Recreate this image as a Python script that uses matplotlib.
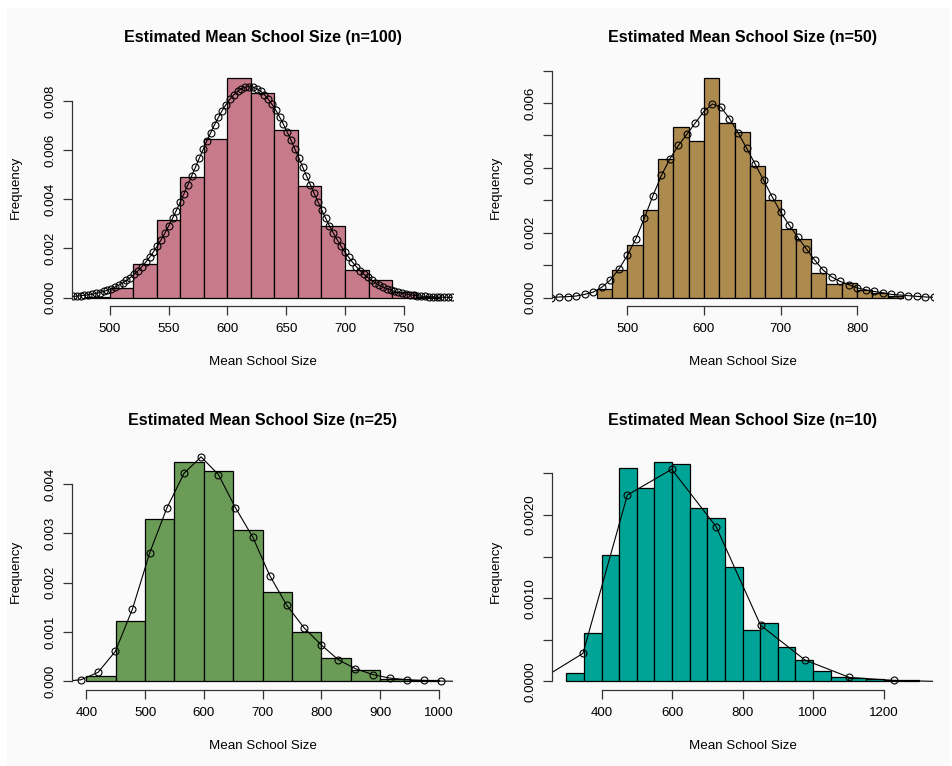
import numpy as np
import matplotlib.pyplot as plt
from matplotlib.patches import Rectangle

plt.rcParams['font.family'] = ['Liberation Sans', 'DejaVu Sans']

W, H = 953, 766

# ---- n = 100 : density histogram (bin width 20) + fitted curve ----
edges_100 = [480, 500, 520, 540, 560, 580, 600, 620, 640, 660, 680, 700, 720, 740, 760, 780]
dens_100 = [0.00003, 0.00038, 0.00135, 0.00315, 0.00491, 0.00646, 0.00893, 0.00831,
            0.00681, 0.00455, 0.00291, 0.00111, 0.00070, 0.00024, 0.00004]
curve_x_100 = [468.8, 472.1, 475.3, 478.6, 481.8, 485.1, 488.3, 491.6, 494.8, 498.1,
               501.3, 504.6, 507.8, 511.1, 514.3, 517.6, 520.8, 524.1, 527.3, 530.6,
               533.9, 537.1, 540.4, 543.6, 546.9, 550.1, 553.4, 556.6, 559.9, 563.1,
               566.4, 569.6, 572.9, 576.1, 579.4, 582.6, 585.9, 589.1, 592.4, 595.6,
               598.9, 602.2, 605.4, 608.7, 611.9, 615.2, 618.4, 621.7, 624.9, 628.2,
               631.4, 634.7, 637.9, 641.2, 644.4, 647.7, 650.9, 654.2, 657.4, 660.7,
               663.9, 667.2, 670.5, 673.7, 677.0, 680.2, 683.5, 686.7, 690.0, 693.2,
               696.5, 699.7, 703.0, 706.2, 709.5, 712.7, 716.0, 719.2, 722.5, 725.8,
               729.0, 732.3, 735.5, 738.8, 742.0, 745.3, 748.5, 751.8, 755.0, 758.3,
               761.5, 764.8, 768.0, 771.3, 774.5, 777.8, 781.0, 784.3, 787.6, 790.8]
# curve heights in units of 1e-4
curve_y_100 = [0.48, 0.60, 0.75, 0.93, 1.14, 1.40, 1.70, 2.07, 2.50, 3.00,
               3.59, 4.27, 5.05, 5.95, 6.98, 8.14, 9.46, 10.93, 12.55, 14.37,
               16.36, 18.54, 20.90, 23.46, 26.19, 29.09, 32.17, 35.39, 38.75, 42.21,
               45.77, 49.39, 53.02, 56.65, 60.23, 63.73, 67.10, 70.30, 73.29, 76.04,
               78.51, 80.66, 82.46, 83.90, 84.94, 85.58, 85.80, 85.60, 84.98, 83.97,
               82.55, 80.76, 78.63, 76.18, 73.44, 70.46, 67.27, 63.91, 60.41, 56.84,
               53.21, 49.58, 45.95, 42.40, 38.93, 35.56, 32.33, 29.25, 26.33, 23.59,
               21.03, 18.65, 16.47, 14.47, 12.65, 11.01, 9.53, 8.21, 7.04, 6.00,
               5.10, 4.30, 3.62, 3.03, 2.52, 2.09, 1.72, 1.41, 1.15, 0.94,
               0.76, 0.61, 0.49, 0.39, 0.31, 0.24, 0.19, 0.15, 0.12, 0.09]

# ---- n = 50 ----
edges_50 = [460, 480, 500, 520, 540, 560, 580, 600, 620, 640, 660,
            680, 700, 720, 740, 760, 780, 800, 820, 840, 860]
dens_50 = [0.00026, 0.00085, 0.00161, 0.00271, 0.00426, 0.00526, 0.00482, 0.00677,
           0.00537, 0.00512, 0.00406, 0.00301, 0.00210, 0.00181, 0.00075, 0.00041,
           0.00046, 0.00024, 0.00013, 0.00005]
curve_x_50 = [400.2, 411.3, 422.4, 433.5, 444.6, 455.7, 466.8, 477.9, 489.1, 500.2,
              511.3, 522.4, 533.5, 544.6, 555.7, 566.8, 577.9, 589.0, 600.1, 611.2,
              622.3, 633.4, 644.6, 655.7, 666.8, 677.9, 689.0, 700.1, 711.2, 722.3,
              733.4, 744.5, 755.6, 766.7, 777.8, 788.9, 800.0, 811.2, 822.3, 833.4,
              844.5, 855.6, 866.7, 877.8, 888.9, 900.0]
curve_y_50 = [0.0, 0.2, 0.3, 0.5, 1.0, 1.7, 3.2, 5.4, 8.8, 13.0,
              18.2, 24.5, 31.4, 37.7, 42.8, 46.9, 50.4, 53.9, 57.4, 59.7,
              58.7, 55.2, 50.8, 46.1, 41.2, 36.2, 31.1, 26.4, 22.4, 18.7,
              15.1, 11.6, 8.5, 6.4, 5.0, 4.0, 3.0, 2.4, 1.9, 1.5,
              1.0, 0.8, 0.6, 0.4, 0.2, 0.1]

# ---- n = 25 ----
edges_25 = [400, 450, 500, 550, 600, 650, 700, 750, 800, 850, 900, 950, 1000]
dens_25 = [0.000115, 0.00122, 0.00330, 0.00445, 0.00426, 0.00306,
           0.00181, 0.000995, 0.000474, 0.00023, 0.000054, 0.000027]
curve_x_25 = [361.8, 391.0, 419.9, 449.4, 478.3, 508.0, 536.9, 566.4, 595.3, 624.8,
              653.7, 683.4, 712.3, 741.3, 770.2, 799.7, 828.6, 857.6, 887.1, 916.0,
              945.0, 973.9, 1003.5, 1032.7]
curve_y_25 = [0.0, 0.34, 1.83, 6.09, 14.6, 26.1, 35.1, 42.2, 45.5, 41.9,
              35.2, 29.2, 21.4, 15.4, 10.9, 7.4, 4.4, 2.6, 1.4, 0.68,
              0.34, 0.2, 0.07, 0.03]

# ---- n = 10 ----
edges_10 = [300, 350, 400, 450, 500, 550, 600, 650, 700, 750, 800,
            850, 900, 950, 1000, 1050, 1100, 1150, 1200, 1250, 1300]
dens_10 = [0.000096, 0.000582, 0.00152, 0.00257, 0.00233, 0.00264, 0.00261,
           0.00208, 0.00196, 0.00138, 0.000618, 0.000699, 0.000418, 0.000261,
           0.000124, 0.000056, 0.000040, 0.000028, 0.000016, 0.000016]
curve_x_10 = [221.4, 347.3, 473.2, 599.0, 725.0, 851.0, 977.0, 1103.0, 1228.0, 1354.0]
curve_y_10 = [0.08, 3.37, 22.4, 25.5, 18.6, 6.75, 2.57, 0.48, 0.12, 0.0]

titles = ['Estimated Mean School Size (n=100)', 'Estimated Mean School Size (n=50)',
          'Estimated Mean School Size (n=25)', 'Estimated Mean School Size (n=10)']
colors = ['#C77A8A', '#AD8A4E', '#6A9C57', '#00A496']

fig = plt.figure(figsize=(W / 100, H / 100), dpi=100)
fig.patch.set_facecolor('white')
fig.add_artist(Rectangle((7 / W, 0), 943 / W, 1 - 8 / H, transform=fig.transFigure,
                         facecolor='#FAFAFA', edgecolor='none', zorder=-10))

PW, PH = 381.3, 237.2
AXC = '#333333'
FS = 9.6


def panel(left, top, edges, dens, cx, cy, color, xlim, xticks, yticks, ylabs, title):
    ax = fig.add_axes([left / W, 1 - (top + PH) / H, PW / W, PH / H])
    ax.set_facecolor('none')
    ax.bar(edges[:-1], dens, width=np.diff(edges), align='edge', color=color,
           edgecolor='black', linewidth=0.9)
    ax.plot(cx, np.array(cy) * 1e-4, color='black', lw=0.8, marker='o', ms=5.0,
            mfc='none', mec='black', mew=0.8)
    ymax = max(dens)
    ax.set_ylim(-0.04 * ymax, 1.04 * ymax)
    ax.set_xlim(xlim)

    for s in ['top', 'right']:
        ax.spines[s].set_visible(False)
    for s in ['left', 'bottom']:
        ax.spines[s].set_color(AXC)
        ax.spines[s].set_linewidth(0.9)
    ax.spines['left'].set_bounds(yticks[0], yticks[-1])
    ax.spines['bottom'].set_bounds(xticks[0], xticks[-1])

    ax.set_xticks(xticks)
    ax.set_xticklabels([str(t) for t in xticks], fontsize=FS)
    ax.set_yticks(yticks)
    ax.set_yticklabels(ylabs, fontsize=FS)
    ax.tick_params(direction='out', length=6.5, width=0.9, color=AXC)
    ax.tick_params(axis='x', pad=5.5)
    ax.tick_params(axis='y', pad=5.0)
    for lab in ax.get_yticklabels():
        lab.set_rotation(90)
        lab.set_va('center')

    cxp = left + PW / 2
    fig.text(cxp / W, 1 - (top - 32) / H, title, ha='center', va='center',
             fontsize=11.5, fontweight='bold')
    fig.text(cxp / W, 1 - (top + PH + 55.7) / H, 'Mean School Size', ha='center',
             va='center', fontsize=FS)
    fig.text((left - 56) / W, 1 - (top + PH / 2) / H, 'Frequency', ha='center',
             va='center', rotation=90, fontsize=FS)
    return ax


panel(72, 69.2, edges_100, dens_100, curve_x_100, curve_y_100, colors[0],
      (468.0, 792.0), [500, 550, 600, 650, 700, 750],
      [0, 0.002, 0.004, 0.006, 0.008],
      ['0.000', '0.002', '0.004', '0.006', '0.008'], titles[0])

panel(552, 69.2, edges_50, dens_50, curve_x_50, curve_y_50, colors[1],
      (401.8, 899.4), [500, 600, 700, 800],
      [0, 0.001, 0.002, 0.003, 0.004, 0.005, 0.006, 0.007],
      ['0.000', '', '0.002', '', '0.004', '', '0.006', ''], titles[1])

panel(72, 453.0, edges_25, dens_25, curve_x_25, curve_y_25, colors[2],
      (375.6, 1024.5), [400, 500, 600, 700, 800, 900, 1000],
      [0, 0.001, 0.002, 0.003, 0.004],
      ['0.000', '0.001', '0.002', '0.003', '0.004'], titles[2])

panel(552, 453.0, edges_10, dens_10, curve_x_10, curve_y_10, colors[3],
      (259.5, 1340.8), [400, 600, 800, 1000, 1200],
      [0, 0.0005, 0.001, 0.0015, 0.002, 0.0025],
      ['0.0000', '', '0.0010', '', '0.0020', ''], titles[3])

fig.savefig('out.png', dpi=100)
